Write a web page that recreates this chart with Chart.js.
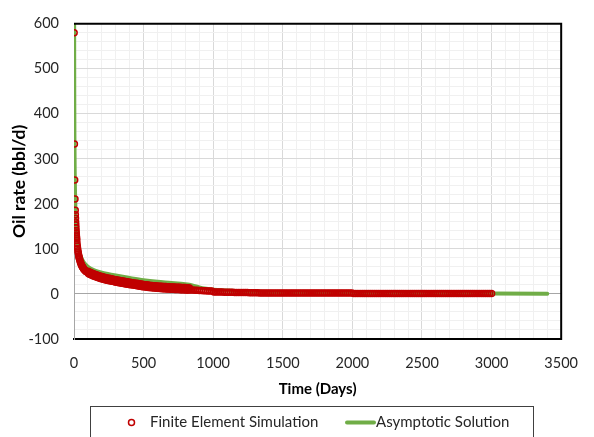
<!DOCTYPE html>
<html>
<head>
<meta charset="utf-8">
<script src="https://cdn.jsdelivr.net/npm/chart.js@4/dist/chart.umd.min.js"></script>
<style>
  html, body { margin: 0; padding: 0; background: #fff; }
  #wrap { width: 594px; height: 437px; position: relative; }
</style>
</head>
<body>
<div id="wrap"><canvas id="c" width="594" height="437"></canvas></div>
<script>
// Finite element simulation output: time (days)
const feTime = [
  1, 3, 5, 7, 9, 10, 11, 12, 13, 14, 15, 16, 17, 18, 19, 20, 22, 24, 26, 28,
  30, 32, 34, 36, 38, 40, 43, 46, 49, 52, 55, 58, 61, 64, 67, 70, 73, 76, 79, 82,
  85, 88, 91, 94, 97,
  100, 105, 110, 115, 120, 125, 130, 135, 140, 145,
  150, 155, 160, 165, 170, 175, 180, 185, 190, 195,
  200, 205, 210, 215, 220, 225, 230, 235, 240, 245,
  250, 255, 260, 265, 270, 275, 280, 285, 290, 295,
  300, 305, 310, 315, 320, 325, 330, 335, 340, 345,
  350, 355, 360, 365, 370, 375, 380, 385, 390, 395,
  400, 405, 410, 415, 420, 425, 430, 435, 440, 445,
  450, 455, 460, 465, 470, 475, 480, 485, 490, 495,
  500, 505, 510, 515, 520, 525, 530, 535, 540, 545,
  550, 555, 560, 565, 570, 575, 580, 585, 590, 595,
  600, 605, 610, 615, 620, 625, 630, 635, 640, 645,
  650, 655, 660, 665, 670, 675, 680, 685, 690, 695,
  700, 705, 710, 715, 720, 725, 730, 735, 740, 745,
  750, 755, 760, 765, 770, 775, 780, 785, 790, 795,
  800, 805, 810, 815, 820, 825, 830,
  840, 855, 870, 885, 900, 915, 930, 945, 960, 975, 990,
  1005, 1020, 1035, 1050, 1065, 1080, 1095, 1110, 1125, 1140, 1155,
  1170, 1185, 1200, 1215, 1230, 1245, 1260, 1275, 1290, 1305, 1320,
  1335, 1350, 1365, 1380, 1395, 1410, 1425, 1440, 1455, 1470, 1485,
  1500, 1515, 1530, 1545, 1560, 1575, 1590, 1605, 1620, 1635, 1650,
  1665, 1680, 1695, 1710, 1725, 1740, 1755, 1770, 1785, 1800, 1815,
  1830, 1845, 1860, 1875, 1890, 1905, 1920, 1935, 1950, 1965, 1980, 1995,
  2010, 2025, 2040, 2055, 2070, 2085, 2100, 2115, 2130, 2145, 2160,
  2175, 2190, 2205, 2220, 2235, 2250, 2265, 2280, 2295, 2310, 2325,
  2340, 2355, 2370, 2385, 2400, 2415, 2430, 2445, 2460, 2475, 2490,
  2505, 2520, 2535, 2550, 2565, 2580, 2595, 2610, 2625, 2640, 2655,
  2670, 2685, 2700, 2715, 2730, 2745, 2760, 2775, 2790, 2805, 2820,
  2835, 2850, 2865, 2880, 2895, 2910, 2925, 2940, 2955, 2970, 2985,
  3000
];
// Finite element simulation output: oil rate (bbl/d)
const feRate = [
  580, 333, 253, 211, 186, 176, 168, 160, 153, 147, 141, 136, 131, 127, 123, 119, 112, 106, 101, 96,
  92, 88.5, 85, 82, 79.5, 77, 73.5, 70.5, 68, 65.5, 63.5, 61.5, 60, 58.5, 57, 55.5, 54.5, 53.5, 52.5, 51.5,
  50.5, 50, 49.5, 49, 48.5,
  50.5, 44.8, 49, 43.3, 47.6, 41.9, 46.2, 40.5, 44.9, 39.2,
  43.5, 38, 42.5, 37, 41.5, 36, 40.5, 35, 39.5, 34,
  38.5, 33.1, 37.7, 32.3, 36.9, 31.5, 36.1, 30.7, 35.4, 30.1,
  34.8, 29.5, 34.1, 28.8, 33.5, 28.1, 32.8, 27.5, 32.1, 26.8,
  31.5, 26.2, 30.9, 25.6, 30.3, 25, 29.7, 24.4, 29.1, 23.8,
  28.5, 23.2, 28, 22.7, 27.5, 22.2, 27, 21.7, 26.5, 21.2,
  26, 20.7, 25.5, 20.2, 25, 19.7, 24.5, 19.2, 24, 18.7,
  23.5, 18.2, 23, 17.7, 22.5, 17.2, 22, 16.7, 21.5, 16.2,
  21, 15.8, 20.6, 15.4, 20.2, 15, 19.8, 14.6, 19.4, 14.2,
  19, 13.9, 18.7, 13.6, 18.4, 13.3, 18.1, 13, 17.8, 12.7,
  17.5, 12.4, 17.3, 12.2, 17.1, 12, 16.9, 11.8, 16.7, 11.6,
  16.5, 11.4, 16.3, 11.2, 16.1, 11, 15.9, 10.8, 15.7, 10.6,
  15.5, 10.4, 15.4, 10.3, 15.2, 10.1, 15.1, 10, 14.9, 9.9,
  14.8, 9.7, 14.7, 9.6, 14.5, 9.4, 14.4, 9.3, 14.2, 9.2,
  14.1, 9, 13.9, 8.8, 13.7, 8.6, 13.5,
  9, 8.7, 8.4, 8.1, 7.8, 7.5, 7.2, 7, 6.8, 6.6, 6.4,
  4.5, 4.4, 4.3, 4.2, 4.1, 4, 3.9, 3.8, 3.7, 3.6, 3.5,
  3.4, 3.3, 3.2, 3.1, 3, 3, 2.9, 2.9, 2.8, 2.8, 2.7,
  2, 2, 2, 2, 2, 2, 2, 2, 2, 2, 2,
  2, 2, 2, 2, 2, 2, 2, 2, 2, 2, 2,
  2, 2, 2, 2, 2, 2, 2, 2, 2, 2, 2,
  2, 2, 2, 2, 2, 2, 2, 2, 2, 2, 2, 2,
  1.2, 1.2, 1.2, 1.2, 1.2, 1.2, 1.2, 1.2, 1.2, 1.2, 1.2,
  1.2, 1.2, 1.2, 1.2, 1.2, 1.2, 1.2, 1.2, 1.2, 1.2, 1.2,
  1.2, 1.2, 1.2, 1.2, 1.2, 1.2, 1.2, 1.2, 1.2, 1.2, 1.2,
  1.2, 1.2, 1.2, 1.2, 1.2, 1.2, 1.2, 1.2, 1.2, 1.2, 1.2,
  1.2, 1.2, 1.2, 1.2, 1.2, 1.2, 1.2, 1.2, 1.2, 1.2, 1.2,
  1.2, 1.2, 1.2, 1.2, 1.2, 1.2, 1.2, 1.2, 1.2, 1.2, 1.2,
  1.2
];

// Asymptotic solution: time (days) and oil rate (bbl/d)
const asTime = [0.4, 1, 2, 3, 5, 7, 10, 15, 20, 30, 40, 50, 70, 100, 150, 200, 250, 300,
  400, 500, 600, 700, 800, 850, 900, 950, 1000, 1100, 1200, 1500, 2000, 2500, 3000, 3400];
const asRate = [900, 600, 430, 350, 272, 230, 190, 150, 128, 105, 91, 82, 70, 60, 52, 47, 44, 41,
  35.5, 30.5, 27, 24.5, 21.5, 19, 14.5, 11.5, 9.5, 7.5, 6, 4, 2.5, 1.5, 1, 0.6];

const seriesNames = ['Finite Element Simulation', 'Asymptotic Solution'];
const xTitle = 'Time (Days)';
const yTitle = 'Oil rate (bbl/d)';

const RED = '#C00000';
const GREEN = '#70AD47';
const FONT = 'Lato, "Open Sans", "Liberation Sans", sans-serif';

Chart.defaults.font.family = FONT;
Chart.defaults.color = '#404040';

// Top and right edges of the plot frame
const framePlugin = {
  id: 'frame',
  afterDatasetsDraw(chart) {
    const { ctx, chartArea: a } = chart;
    ctx.save();
    ctx.strokeStyle = '#000';
    ctx.lineWidth = 2;
    ctx.beginPath();
    ctx.moveTo(a.left, a.top);
    ctx.lineTo(a.right, a.top);
    ctx.lineTo(a.right, a.bottom + 1);
    ctx.stroke();
    ctx.restore();
  }
};

// Boxed legend under the axis title
const legendBox = {
  id: 'legendBox',
  afterDraw(chart) {
    const { ctx } = chart;
    const y = 422.5;
    ctx.save();
    ctx.strokeStyle = '#404040';
    ctx.lineWidth = 1;
    ctx.strokeRect(90.5, 406.5, 443, 40);

    ctx.strokeStyle = RED;
    ctx.lineWidth = 1.5;
    ctx.beginPath();
    ctx.arc(131.5, y, 3, 0, Math.PI * 2);
    ctx.stroke();

    ctx.strokeStyle = GREEN;
    ctx.lineWidth = 4;
    ctx.lineCap = 'round';
    ctx.beginPath();
    ctx.moveTo(347, y);
    ctx.lineTo(374, y);
    ctx.stroke();

    ctx.fillStyle = '#262626';
    ctx.font = '15px ' + FONT;
    ctx.textBaseline = 'middle';
    ctx.textAlign = 'left';
    ctx.fillText(seriesNames[0], 150, y);
    ctx.fillText(seriesNames[1], 376, y);
    ctx.restore();
  }
};

const feData = feTime.map((t, i) => ({ x: t, y: feRate[i] }));
const asData = asTime.map((t, i) => ({ x: t, y: asRate[i] }));

new Chart(document.getElementById('c'), {
  type: 'scatter',
  data: {
    datasets: [
      {
        label: seriesNames[0],
        data: feData,
        showLine: false,
        pointRadius: 3,
        pointHoverRadius: 3,
        pointBorderWidth: 1.5,
        pointBorderColor: RED,
        pointBackgroundColor: 'rgba(0,0,0,0)',
        order: 0
      },
      {
        label: seriesNames[1],
        data: asData,
        showLine: true,
        borderColor: GREEN,
        borderWidth: 4,
        borderCapStyle: 'round',
        cubicInterpolationMode: 'monotone',
        pointRadius: 0,
        pointHoverRadius: 0,
        order: 1
      }
    ]
  },
  options: {
    responsive: false,
    animation: false,
    events: [],
    layout: { padding: { top: 17, right: 19, bottom: 39, left: 0 } },
    plugins: {
      legend: { display: false },
      tooltip: { enabled: false }
    },
    scales: {
      x: {
        type: 'linear',
        min: 0,
        max: 3500,
        afterFit(scale) { scale.height = 59; },
        ticks: {
          stepSize: 100,
          autoSkip: false,
          maxRotation: 0,
          padding: 16,
          color: '#262626',
          font: { size: 14.5 },
          callback: v => (v % 500 === 0 ? String(v) : '')
        },
        grid: {
          drawTicks: false,
          lineWidth: 1,
          color: c => (c.tick.value === 0 ? '#a6a6a6' : (c.tick.value % 500 === 0 ? '#d9d9d9' : '#f0f0f0'))
        },
        border: { display: true, color: '#000', width: 2 },
        title: {
          display: true,
          text: xTitle,
          color: '#000',
          font: { size: 15, weight: 'bold' },
          padding: { top: 0, bottom: 0 }
        }
      },
      y: {
        min: -100,
        max: 600,
        afterFit(scale) { scale.width = 74; },
        ticks: {
          stepSize: 20,
          autoSkip: false,
          padding: 15,
          color: '#262626',
          font: { size: 14.5 },
          callback: v => (v % 100 === 0 ? String(v) : '')
        },
        grid: {
          drawTicks: false,
          lineWidth: 1,
          color: c => (c.tick.value === 0 ? '#a6a6a6' : (c.tick.value % 100 === 0 ? '#d9d9d9' : '#f0f0f0'))
        },
        border: { display: true, color: '#a6a6a6', width: 1 },
        title: {
          display: true,
          text: yTitle,
          color: '#000',
          font: { size: 17.5, weight: 'bold' },
          padding: { top: 9, bottom: 0 }
        }
      }
    }
  },
  plugins: [framePlugin, legendBox]
});
</script>
</body>
</html>
